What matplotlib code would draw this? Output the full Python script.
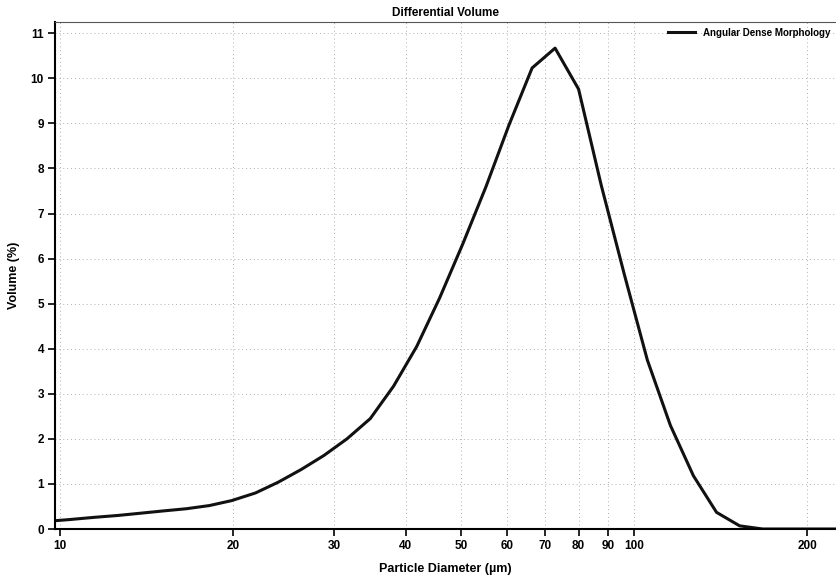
import matplotlib.pyplot as plt
from matplotlib.ticker import FixedLocator, NullLocator

plt.rcParams['font.family'] = ['Liberation Sans', 'DejaVu Sans']

# particle size bins (um) and differential volume (%)
diameter = [9.5, 10.4, 11.5, 12.6, 13.8, 15.1, 16.6, 18.2, 19.9, 21.9, 24.0,
            26.3, 28.8, 31.6, 34.7, 38.1, 41.8, 45.8, 50.3, 55.2, 60.5,
            66.4, 72.8, 80.0, 87.6, 96.1, 105.4, 115.6, 126.8, 139.1, 152.6,
            163.0, 167.4, 183.6, 201.4, 221.0, 240.0]
volume = [0.17, 0.21, 0.26, 0.30, 0.35, 0.40, 0.45, 0.52, 0.63, 0.80, 1.04,
          1.32, 1.63, 2.00, 2.45, 3.17, 4.05, 5.12, 6.33, 7.60, 8.96,
          10.23, 10.67, 9.76, 7.63, 5.65, 3.75, 2.30, 1.18, 0.37, 0.07,
          0.02, 0.0, 0.0, 0.0, 0.0, 0.0]

xticks = [10, 20, 30, 40, 50, 60, 70, 80, 90, 100, 200]
yticks = list(range(0, 12))

fig = plt.figure(figsize=(8.36, 5.79), dpi=100)
ax = fig.add_axes([55/836, 50/579, 781/836, 507/579])

ax.plot(diameter, volume, '-', color='#111111', lw=2.2,
        label='Angular Dense Morphology')

ax.set_xscale('log')
ax.set_xlim(9.8, 224.6)
ax.set_ylim(0, 11.25)
ax.xaxis.set_major_locator(FixedLocator(xticks))
ax.xaxis.set_minor_locator(NullLocator())
ax.set_xticklabels([str(t) for t in xticks])
ax.set_yticks(yticks)

ax.grid(True, which='major', linestyle=(0, (1, 3)), color='#b0b0b0', lw=0.7)
ax.tick_params(direction='out', length=5, width=1.2, labelsize=8.5, pad=3)
for lab in ax.get_xticklabels() + ax.get_yticklabels():
    lab.set_fontweight('bold')

ax.spines['left'].set_linewidth(1.5)
ax.spines['bottom'].set_linewidth(1.5)
ax.spines['top'].set_color('#555555')
ax.spines['right'].set_visible(False)

ax.set_title('Differential Volume', fontsize=8.5, fontweight='bold', pad=4)
ax.set_xlabel('Particle Diameter (µm)', fontsize=9, fontweight='bold', labelpad=8)
ax.set_ylabel('Volume (%)', fontsize=9, fontweight='bold', labelpad=8)

leg = ax.legend(loc='upper right', frameon=False, fontsize=7,
                handlelength=2.8, borderaxespad=0.4, borderpad=0.2)
for t in leg.get_texts():
    t.set_fontweight('bold')

fig.savefig('out.png', dpi=100)
